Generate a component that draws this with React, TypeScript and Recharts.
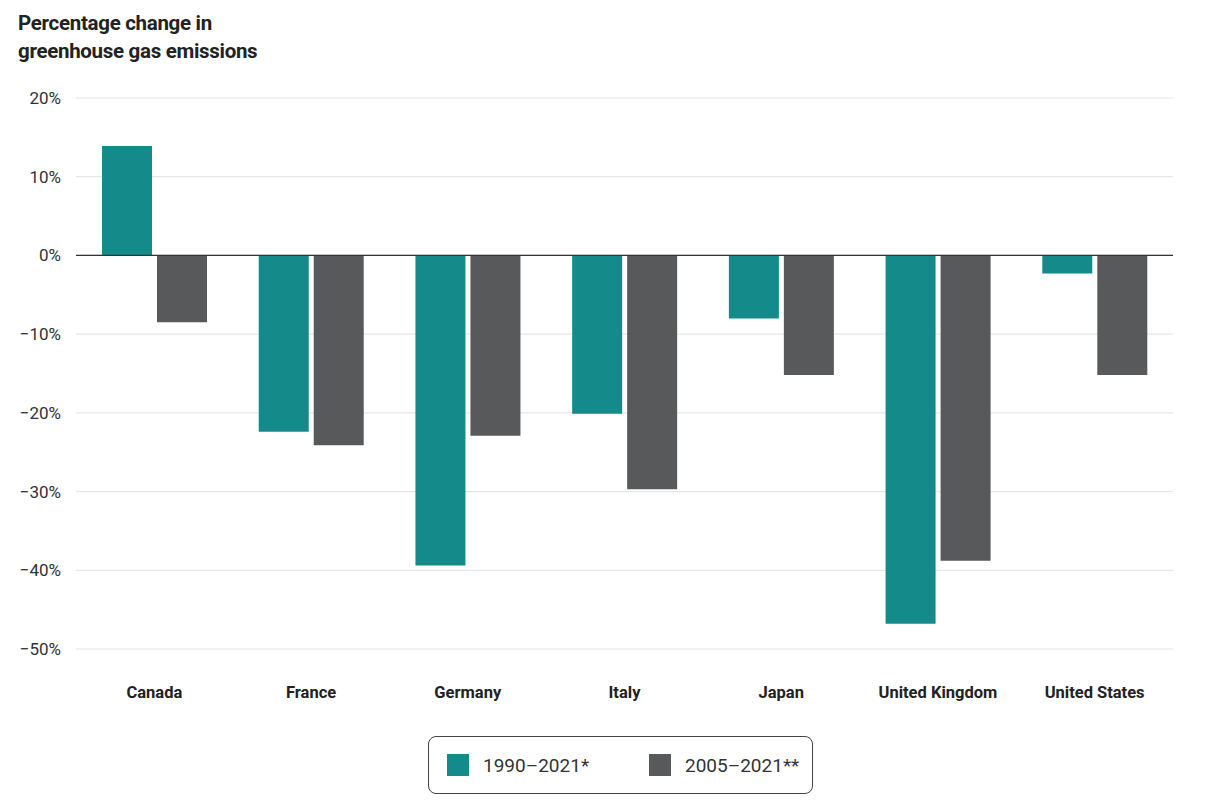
import React from "react"
import {
  BarChart,
  Bar,
  XAxis,
  YAxis,
  CartesianGrid,
  ReferenceLine,
} from "recharts"

const countries = [
  "Canada",
  "France",
  "Germany",
  "Italy",
  "Japan",
  "United Kingdom",
  "United States",
]
const change1990 = [13.9, -22.4, -39.4, -20.1, -8.0, -46.8, -2.3]
const change2005 = [-8.5, -24.1, -22.9, -29.7, -15.2, -38.8, -15.2]
const yTicks = [-50, -40, -30, -20, -10, 0, 10, 20]

const TEAL = "#148b8a"
const GRAY = "#58595b"
const FONT = "Roboto, 'Noto Sans', sans-serif"

const data = countries.map((name, i) => ({
  name,
  a: change1990[i],
  b: change2005[i],
}))

// minus sign like the source, not a hyphen
const pct = (v: number) => (v < 0 ? "\u2212" + Math.abs(v) : String(v)) + "%"

const LegendItem = ({ color, label }: { color: string; label: string }) => (
  <div style={{ display: "flex", alignItems: "center" }}>
    <div style={{ width: 22, height: 22, background: color, marginRight: 14 }} />
    <span style={{ fontSize: 19, color: "#333" }}>{label}</span>
  </div>
)

export default function App() {
  return (
    <div
      style={{
        position: "absolute",
        top: 0,
        left: 0,
        width: 1224,
        height: 810,
        background: "#fff",
        fontFamily: FONT,
      }}
    >
      <div
        style={{
          position: "absolute",
          left: 18,
          top: 9,
          fontSize: 20.5,
          lineHeight: "28px",
          fontWeight: 700,
          color: "#222",
          letterSpacing: -0.3,
        }}
      >
        Percentage change in
        <br />
        greenhouse gas emissions
      </div>

      <BarChart
        width={1224}
        height={720}
        data={data}
        margin={{ top: 98, right: 51, bottom: 0, left: 0 }}
        barCategoryGap="16.6%"
        barGap={5}
        style={{ position: "absolute", top: 0, left: 0 }}
      >
        <CartesianGrid vertical={false} stroke="#e6e6e6" strokeWidth={1.2} />
        <XAxis
          dataKey="name"
          axisLine={false}
          tickLine={false}
          tickSize={0}
          tickMargin={37}
          height={71}
          interval={0}
          tick={{ fontSize: 16.5, fontWeight: 700, fill: "#222", fontFamily: FONT }}
        />
        <YAxis
          domain={[-50, 20]}
          ticks={yTicks}
          axisLine={false}
          tickLine={false}
          tickSize={0}
          tickMargin={15}
          width={76}
          tickFormatter={pct}
          tick={{ fontSize: 17, fill: "#333", fontFamily: FONT }}
        />
        <ReferenceLine y={0} stroke="#333" strokeWidth={1.2} />
        <Bar dataKey="a" fill={TEAL} isAnimationActive={false} name="1990–2021*" />
        <Bar dataKey="b" fill={GRAY} isAnimationActive={false} name="2005–2021**" />
      </BarChart>

      <div
        style={{
          position: "absolute",
          left: 428,
          top: 736,
          width: 385,
          height: 58,
          boxSizing: "border-box",
          border: "1.5px solid #444",
          borderRadius: 8,
          display: "flex",
          alignItems: "center",
          paddingLeft: 18,
          gap: 0,
        }}
      >
        <div style={{ width: 202 }}>
          <LegendItem color={TEAL} label="1990–2021*" />
        </div>
        <LegendItem color={GRAY} label="2005–2021**" />
      </div>
    </div>
  )
}
